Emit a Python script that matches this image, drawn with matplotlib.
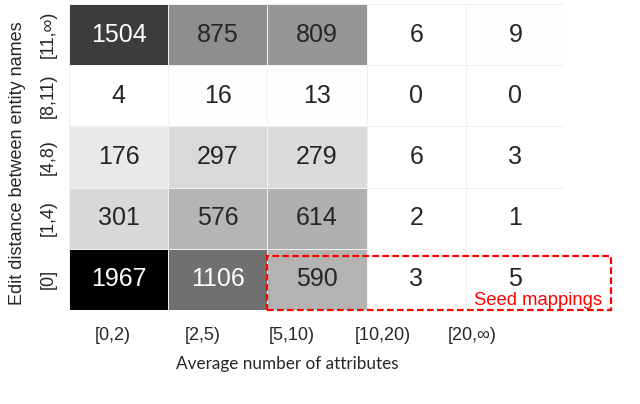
import numpy as np
import matplotlib
matplotlib.use("Agg")
import matplotlib.pyplot as plt
from matplotlib.patches import Rectangle

# rows from bottom to top: edit distance between entity names
row_labels = ["[0]", "[1,4)", "[4,8)", "[8,11)", "[11,\u221e)"]
col_labels = ["[0,2)", "[2,5)", "[5,10)", "[10,20)", "[20,\u221e)"]

counts_0 = [1967, 1106, 590, 3, 5]
counts_1_4 = [301, 576, 614, 2, 1]
counts_4_8 = [176, 297, 279, 6, 3]
counts_8_11 = [4, 16, 13, 0, 0]
counts_11_inf = [1504, 875, 809, 6, 9]

# the x tick labels in the figure sit on a slightly narrower grid than the cells
xtick_pos = [0.44, 1.35, 2.25, 3.16, 4.06]

data = np.array([counts_0, counts_1_4, counts_4_8, counts_8_11, counts_11_inf])

plt.rcParams['font.family'] = ['Liberation Sans', 'DejaVu Sans']

fig = plt.figure(figsize=(6.4, 4.04), dpi=100)
ax = fig.add_axes([69 / 640, 1 - 310 / 404, 496 / 640, 306 / 404])

cmap = plt.get_cmap('gray_r')
vmax = data.max()
ax.pcolormesh(np.arange(6), np.arange(6), data, cmap=cmap, vmin=0, vmax=vmax,
              edgecolor='#f0f0f0', linewidth=0.5)

for i in range(data.shape[0]):
    for j in range(data.shape[1]):
        v = data[i, j]
        g = 1 - v / vmax
        color = 'white' if g < 0.5 else '#262626'
        ax.text(j + 0.5, i + 0.5, str(v), ha='center', va='center',
                fontsize=18, color=color)

ax.set_xlim(0, 5)
ax.set_ylim(0, 5)
for s in ax.spines.values():
    s.set_visible(False)

ax.set_xticks(xtick_pos)
ax.set_xticklabels(col_labels, fontsize=13, color='#262626')
ax.set_yticks(np.arange(5) + 0.5)
ax.set_yticklabels(row_labels, fontsize=13, rotation=90, va='center',
                   color='#262626')
ax.tick_params(axis='x', length=0, pad=12)
ax.tick_params(axis='y', length=0, pad=9)

ax.set_xlabel('Average number of attributes', fontsize=12.3, family='Lato',
              color='#262626', va='center')
ax.xaxis.set_label_coords(0.44, -0.175)
ax.set_ylabel('Edit distance between entity names', fontsize=13,
              color='#262626', va='center', ha='center')
ax.yaxis.set_label_coords(-0.103, 0.48)

# seed mappings box
ax.add_patch(Rectangle((2, 0), 3.46, 0.88, fill=False, edgecolor='red',
                       linewidth=1.6, linestyle=(0, (3, 1.5)), clip_on=False))
ax.text(5.37, 0.16, 'Seed mappings', color='red', fontsize=13.3,
        ha='right', va='center', clip_on=False)

fig.savefig('out.png', dpi=100)
